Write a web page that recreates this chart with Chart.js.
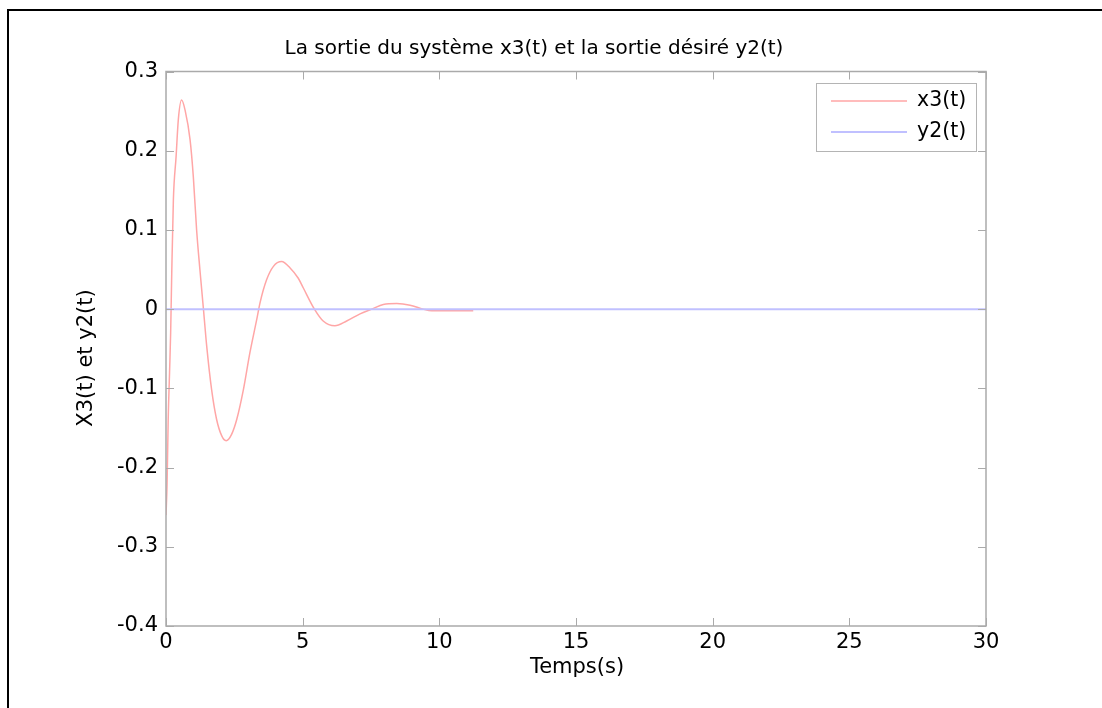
<!DOCTYPE html>
<html>
<head>
<meta charset="utf-8">
<title>La sortie du système x3(t) et la sortie désiré y2(t)</title>
<script src="https://cdn.jsdelivr.net/npm/chart.js@4.4.1/dist/chart.umd.min.js"></script>
<style>
  html, body { margin: 0; padding: 0; background: #ffffff; }
  canvas { display: block; }
</style>
</head>
<body>
<canvas id="plot" width="1102" height="708"></canvas>
<script>
// Time samples (s) and system output x3(t)
const timeX3 = [0, 0.04, 0.08, 0.13, 0.17, 0.21, 0.27, 0.37, 0.45, 0.57, 0.7, 0.88, 1.0, 1.12, 1.24, 1.37,
  1.49, 1.67, 1.85, 2.04, 2.2, 2.4, 2.59, 2.83, 3.07, 3.32, 3.44, 3.68, 3.93, 4.23, 4.54, 4.84,
  5.02, 5.43, 5.75, 6.18, 6.61, 7.1, 7.53, 7.95, 8.44, 8.93, 9.41, 9.72, 10.5, 11.24];
const x3Values = [-0.26, -0.22, -0.14, -0.08, -0.03, 0.045, 0.138, 0.193, 0.239, 0.264, 0.251, 0.214, 0.167, 0.1, 0.05, 0,
  -0.047, -0.102, -0.139, -0.16, -0.166, -0.158, -0.139, -0.102, -0.055, -0.013, 0.008, 0.037, 0.054, 0.06, 0.052, 0.039,
  0.027, 0, -0.015, -0.021, -0.015, -0.006, 0, 0.006, 0.007, 0.005, 0, -0.002, -0.002, -0.002];

// Desired output y2(t)
const timeY2 = [0, 30];
const y2Values = [0, 0];

// Axis ticks
const xTickValues = [0, 5, 10, 15, 20, 25, 30];
const yTickValues = [-0.4, -0.3, -0.2, -0.1, 0, 0.1, 0.2, 0.3];

const seriesLabels = ['x3(t)', 'y2(t)'];
const titleText = 'La sortie du système x3(t) et la sortie désiré y2(t)';
const xTitleText = 'Temps(s)';
const yTitleText = 'X3(t) et y2(t)';

const FONT = '"DejaVu Sans", sans-serif';
const AXIS_GRAY = '#aaaaaa';

const toPoints = (xs, ys) => xs.map((x, i) => ({ x: x, y: ys[i] }));

// Figure frame, axes box with inward ticks, in-plot legend, titles
const decorations = {
  id: 'decorations',
  beforeDraw(chart) {
    const ctx = chart.ctx;
    ctx.save();
    ctx.fillStyle = '#ffffff';
    ctx.fillRect(0, 0, chart.width, chart.height);
    ctx.fillStyle = '#000000';
    ctx.fillRect(7, 9, chart.width - 7, 2);
    ctx.fillRect(7, 9, 2, chart.height - 9);
    ctx.restore();
  },
  afterDatasetsDraw(chart) {
    const ctx = chart.ctx;
    const a = chart.chartArea;
    const xs = chart.scales.x, ys = chart.scales.y;
    const tickLen = 8;
    ctx.save();

    // axes box
    ctx.strokeStyle = AXIS_GRAY;
    ctx.lineWidth = 1.5;
    ctx.strokeRect(a.left, a.top, a.right - a.left, a.bottom - a.top);

    // inward ticks on all four sides
    ctx.lineWidth = 1;
    ctx.beginPath();
    xTickValues.forEach(v => {
      const px = Math.round(xs.getPixelForValue(v)) + 0.5;
      ctx.moveTo(px, a.bottom); ctx.lineTo(px, a.bottom - tickLen);
      ctx.moveTo(px, a.top); ctx.lineTo(px, a.top + tickLen);
    });
    yTickValues.forEach(v => {
      const py = Math.round(ys.getPixelForValue(v)) + 0.5;
      ctx.moveTo(a.left, py); ctx.lineTo(a.left + tickLen, py);
      ctx.moveTo(a.right, py); ctx.lineTo(a.right - tickLen, py);
    });
    ctx.stroke();

    // legend box inside the plot, top right
    const boxL = 816, boxT = 83, boxW = 160, boxH = 68;
    ctx.fillStyle = '#ffffff';
    ctx.fillRect(boxL, boxT, boxW, boxH);
    ctx.strokeStyle = '#b4b4b4';
    ctx.lineWidth = 1;
    ctx.strokeRect(boxL + 0.5, boxT + 0.5, boxW, boxH);
    ctx.font = '20.5px ' + FONT;
    ctx.textBaseline = 'middle';
    ctx.textAlign = 'left';
    chart.data.datasets.forEach((ds, i) => {
      const ly = boxT + 18 + i * 31;
      ctx.strokeStyle = ds.borderColor;
      ctx.lineWidth = ds.borderWidth;
      ctx.beginPath();
      ctx.moveTo(boxL + 15, ly); ctx.lineTo(boxL + 91, ly);
      ctx.stroke();
      ctx.fillStyle = '#000000';
      ctx.fillText(ds.label, boxL + 101, ly);
    });

    // titles
    ctx.fillStyle = '#000000';
    ctx.textAlign = 'center';
    ctx.textBaseline = 'middle';
    ctx.font = '20px ' + FONT;
    ctx.fillText(titleText, 534, 49);
    ctx.font = '21px ' + FONT;
    ctx.fillText(xTitleText, (a.left + a.right) / 2 + 1, 668);
    ctx.translate(87, 358);
    ctx.rotate(-Math.PI / 2);
    ctx.fillText(yTitleText, 0, 0);
    ctx.restore();
  }
};

new Chart(document.getElementById('plot'), {
  type: 'line',
  data: {
    datasets: [
      {
        label: seriesLabels[0],
        data: toPoints(timeX3, x3Values),
        borderColor: '#ffa6a6',
        borderWidth: 1.5,
        pointRadius: 0,
        cubicInterpolationMode: 'monotone',
        fill: false,
        order: 1
      },
      {
        label: seriesLabels[1],
        data: toPoints(timeY2, y2Values),
        borderColor: '#c0c0ff',
        borderWidth: 2,
        pointRadius: 0,
        fill: false,
        order: 0
      }
    ]
  },
  options: {
    responsive: false,
    animation: false,
    devicePixelRatio: 1,
    layout: { padding: { top: 71.5, right: 116, left: 0, bottom: 0 } },
    plugins: {
      legend: { display: false },
      title: { display: false },
      tooltip: { enabled: false }
    },
    scales: {
      x: {
        type: 'linear',
        min: 0,
        max: 30,
        grid: { display: false, drawTicks: false },
        border: { display: false },
        afterBuildTicks: s => { s.ticks = xTickValues.map(v => ({ value: v })); },
        afterFit: s => { s.height = 82; },
        ticks: {
          padding: 4,
          color: '#000000',
          font: { family: FONT, size: 21 },
          callback: v => String(v)
        }
      },
      y: {
        type: 'linear',
        min: -0.4,
        max: 0.3,
        grid: { display: false, drawTicks: false },
        border: { display: false },
        afterBuildTicks: s => { s.ticks = yTickValues.map(v => ({ value: v })); },
        afterFit: s => { s.width = 166; },
        ticks: {
          padding: 8,
          color: '#000000',
          font: { family: FONT, size: 21 },
          callback: v => String(Number(v.toFixed(1)))
        }
      }
    }
  },
  plugins: [decorations]
});
</script>
</body>
</html>
